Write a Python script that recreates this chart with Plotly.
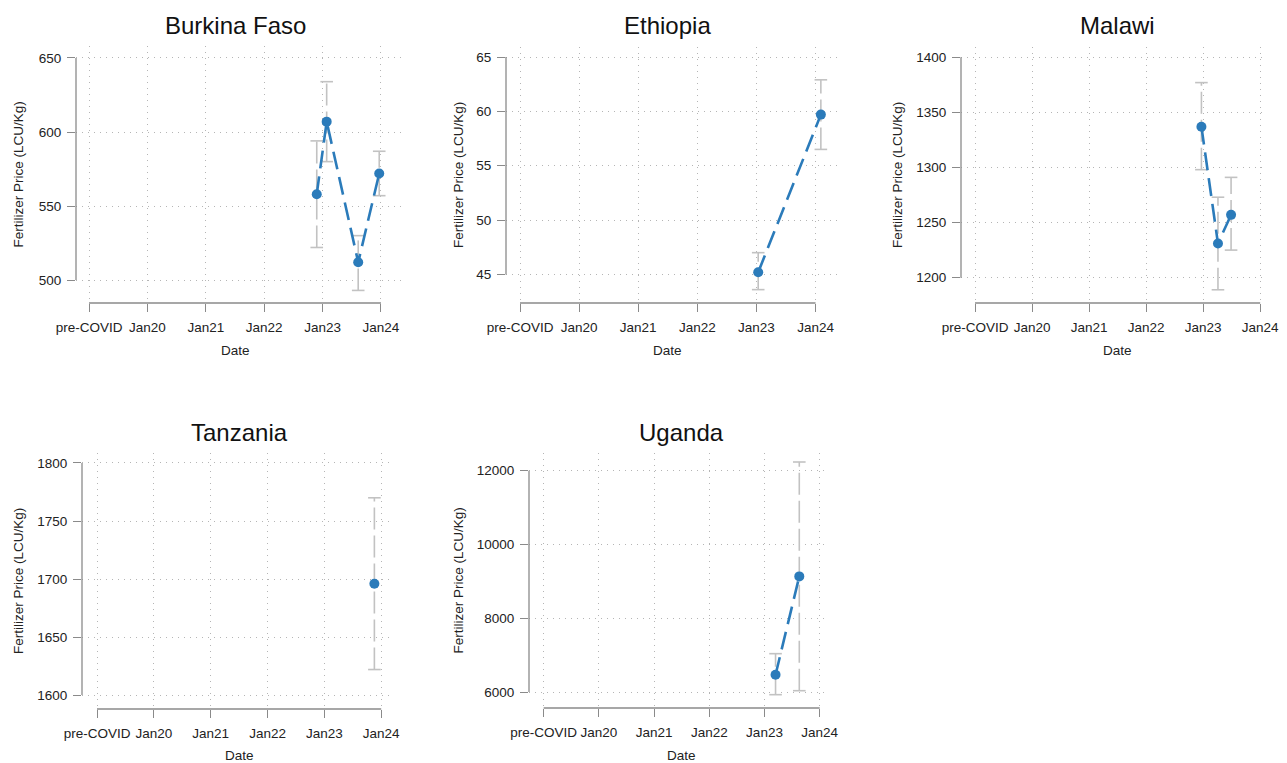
import plotly.graph_objects as go

# ---------------- data ----------------
tick_vals = [2019, 2020, 2021, 2022, 2023, 2024]
tick_text = ["pre-COVID", "Jan20", "Jan21", "Jan22", "Jan23", "Jan24"]

countries = ["Burkina Faso", "Ethiopia", "Malawi", "Tanzania", "Uganda"]

bf_x = [2022.90, 2023.07, 2023.61, 2023.97]
bf_y = [558, 607, 512, 572]
bf_lo = [522, 580, 493, 557]
bf_hi = [594, 634, 530, 587]
bf_ticks = [500, 550, 600, 650]

et_x = [2023.03, 2024.09]
et_y = [45.2, 59.7]
et_lo = [43.6, 56.5]
et_hi = [47.0, 62.9]
et_ticks = [45, 50, 55, 60, 65]

mw_x = [2022.97, 2023.26, 2023.49]
mw_y = [1337, 1231, 1257]
mw_lo = [1298, 1189, 1225]
mw_hi = [1377, 1273, 1291]
mw_ticks = [1200, 1250, 1300, 1350, 1400]

tz_x = [2023.88]
tz_y = [1696]
tz_lo = [1622]
tz_hi = [1770]
tz_ticks = [1600, 1650, 1700, 1750, 1800]

ug_x = [2023.20, 2023.63]
ug_y = [6470, 9135]
ug_lo = [5928, 6036]
ug_hi = [7040, 12236]
ug_ticks = [6000, 8000, 10000, 12000]

series = [
    (bf_x, bf_y, bf_lo, bf_hi, bf_ticks),
    (et_x, et_y, et_lo, et_hi, et_ticks),
    (mw_x, mw_y, mw_lo, mw_hi, mw_ticks),
    (tz_x, tz_y, tz_lo, tz_hi, tz_ticks),
    (ug_x, ug_y, ug_lo, ug_hi, ug_ticks),
]

# ---------------- layout geometry (pixels) ----------------
W, H = 1287, 763
# plot-area boxes: left, right, top, bottom
boxes = [
    (76, 402, 46, 303),
    (506, 838, 47, 303),
    (961, 1267, 47, 303),
    (82, 392, 453, 709),
    (529, 828, 453, 708),
]
x_ranges = [
    (2018.777, 2024.36),
    (2018.763, 2024.38),
    (2018.754, 2024.12),
    (2018.736, 2024.19),
    (2018.734, 2024.15),
]
y_ranges = [
    (484.5, 658.1),
    (42.37, 65.92),
    (1177, 1409.3),
    (1588, 1808.6),
    (5567, 12480),
]
ytitle_x = [18, 458, 897, 18, 458]
title_y = [25, 25, 25, 432, 432]
date_y = [350, 350, 350, 755, 755]

BLUE = "#2b7bba"
GREY_ERR = "#c2c2c2"
AXIS = "#8a8a8a"
GRID = "#b5b5b5"
FONT = "Liberation Sans, Arial, sans-serif"

fig = go.Figure()
layout = dict(
    width=W, height=H, autosize=False,
    margin=dict(l=0, r=0, t=0, b=0, pad=0),
    paper_bgcolor="white", plot_bgcolor="white",
    showlegend=False,
    font=dict(family=FONT, size=13.5, color="#222"),
)
shapes = []
annotations = []

for i, (xs, ys, lo, hi, yt) in enumerate(series):
    n = i + 1
    xa = "x" if n == 1 else f"x{n}"
    ya = "y" if n == 1 else f"y{n}"
    xkey = "xaxis" if n == 1 else f"xaxis{n}"
    ykey = "yaxis" if n == 1 else f"yaxis{n}"
    l, r, t, b = boxes[i]

    # error bars (dashed grey)
    ex, ey = [], []
    for xv, a, c in zip(xs, lo, hi):
        ex += [xv, xv, None]
        ey += [a, c, None]
    fig.add_trace(go.Scatter(x=ex, y=ey, mode="lines", xaxis=xa, yaxis=ya,
                             line=dict(color=GREY_ERR, width=1.6, dash="22px,6px"),
                             hoverinfo="skip"))
    # caps
    fig.add_trace(go.Scatter(x=list(xs) + list(xs), y=list(lo) + list(hi), mode="markers",
                             xaxis=xa, yaxis=ya,
                             marker=dict(symbol="line-ew", size=9,
                                         line=dict(color=GREY_ERR, width=1.6)),
                             hoverinfo="skip"))
    # line + markers
    fig.add_trace(go.Scatter(x=xs, y=ys, mode="lines+markers", xaxis=xa, yaxis=ya,
                             line=dict(color=BLUE, width=2.6, dash="18px,8px"),
                             marker=dict(color=BLUE, size=10)))

    layout[xkey] = dict(
        domain=[l / W, r / W], range=list(x_ranges[i]), anchor=ya,
        tickmode="array", tickvals=tick_vals, ticktext=tick_text,
        tickangle=0, automargin=False,
        showline=False, zeroline=False, showgrid=True,
        gridcolor=GRID, griddash="1px,5px", gridwidth=1,
        ticks="outside", ticklen=8, tickwidth=1.3, tickcolor=AXIS,
        ticklabelstandoff=4,
        tickfont=dict(size=13.5, color="#222", family=FONT),
        fixedrange=True,
    )
    layout[ykey] = dict(
        domain=[1 - b / H, 1 - t / H], range=list(y_ranges[i]), anchor=xa,
        tickmode="array", tickvals=yt, ticktext=[str(v) for v in yt],
        automargin=False,
        showline=False, zeroline=False, showgrid=True,
        gridcolor=GRID, griddash="1px,5px", gridwidth=1,
        ticks="outside", ticklen=8, tickwidth=1.3, tickcolor=AXIS,
        ticklabelstandoff=3,
        tickfont=dict(size=13.5, color="#222", family=FONT),
        fixedrange=True,
    )
    # detached axis lines spanning the tick range
    shapes.append(dict(type="line", xref=f"{xa} domain", yref=ya,
                       x0=0, x1=0, y0=yt[0], y1=yt[-1],
                       line=dict(color=AXIS, width=1.3), layer="above"))
    shapes.append(dict(type="line", xref=xa, yref=f"{ya} domain",
                       x0=tick_vals[0], x1=tick_vals[-1], y0=0, y1=0,
                       line=dict(color=AXIS, width=1.3), layer="above"))

    mid_x = (tick_vals[0] + tick_vals[-1]) / 2
    annotations.append(dict(text=countries[i], xref=xa, yref="paper",
                            x=mid_x, y=1 - title_y[i] / H, showarrow=False,
                            xanchor="center", yanchor="middle",
                            font=dict(size=24, color="#111", family=FONT)))
    annotations.append(dict(text="Date", xref=xa, yref="paper",
                            x=mid_x, y=1 - date_y[i] / H, showarrow=False,
                            xanchor="center", yanchor="middle",
                            font=dict(size=13.5, color="#222", family=FONT)))
    annotations.append(dict(text="Fertilizer Price (LCU/Kg)", xref="paper",
                            yref=f"{ya} domain", x=ytitle_x[i] / W, y=0.5,
                            textangle=-90, showarrow=False,
                            xanchor="center", yanchor="middle",
                            font=dict(size=13.5, color="#222", family=FONT)))

layout["shapes"] = shapes
layout["annotations"] = annotations
fig.update_layout(**layout)

fig.write_html(
    "out.html",
    config={"displayModeBar": False},
    post_script="document.documentElement.style.margin='0';"
                "document.body.style.margin='0';"
                "document.body.style.overflow='hidden';",
)
